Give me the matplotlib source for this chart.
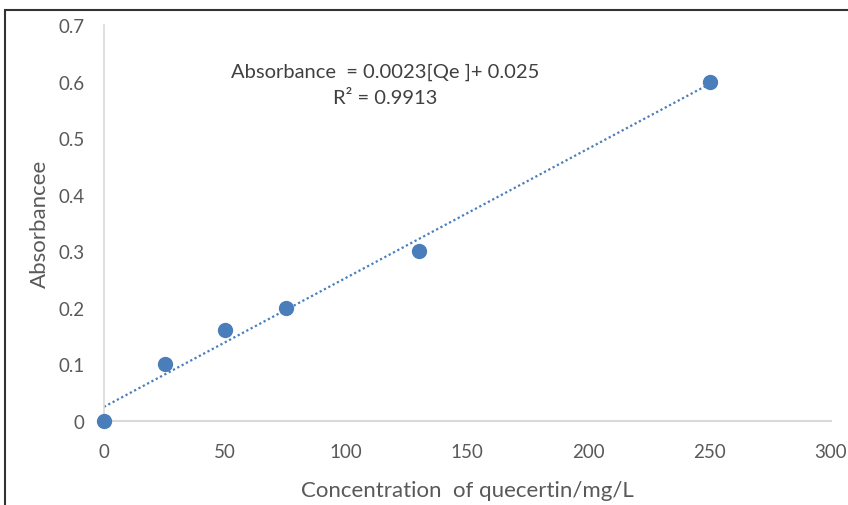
import numpy as np
import matplotlib
matplotlib.use('Agg')
import matplotlib.pyplot as plt
from matplotlib.patches import Rectangle

# du lieu doc tu hinh
conc = [0, 25, 50, 75, 130, 250]
absorb = [0, 0.1, 0.16, 0.2, 0.3, 0.6]
x_ticks = [0, 50, 100, 150, 200, 250, 300]
y_ticks = [0, 0.1, 0.2, 0.3, 0.4, 0.5, 0.6, 0.7]

plt.rcParams['font.family'] = ['Lato', 'DejaVu Sans']
blue = '#4a7ebb'
grey_txt = '#595959'

fig = plt.figure(figsize=(8.48, 5.06), dpi=100)
ax = fig.add_axes([0.1226, 0.166, 0.857, 0.7826])

# duong xu huong tuyen tinh
slope, icpt = np.polyfit(conc, absorb, 1)
xs = np.array([min(conc), max(conc)])
ax.plot(xs, slope * xs + icpt, linestyle=(0, (1, 1.2)), color=blue, lw=1.6)
ax.plot(conc, absorb, 'o', color=blue, markersize=10, clip_on=False, zorder=5)

ax.set_xlim(0, 300)
ax.set_ylim(0, 0.7)
ax.set_xticks(x_ticks)
ax.set_yticks(y_ticks)
ax.set_xticklabels([str(v) for v in x_ticks])
ax.set_yticklabels(['0' if v == 0 else f'{v:.1f}' for v in y_ticks])
ax.tick_params(length=0, labelsize=13.5, colors=grey_txt)
ax.tick_params(axis='x', pad=16)
ax.tick_params(axis='y', pad=14)

for s in ['top', 'right']:
    ax.spines[s].set_visible(False)
ax.spines['left'].set_color('#d9d9d9')
ax.spines['bottom'].set_color('#d9d9d9')
ax.spines['left'].set_linewidth(1.2)
ax.spines['bottom'].set_linewidth(1.5)

ax.set_xlabel('Concentration  of quecertin/mg/L', fontsize=16, color=grey_txt, labelpad=14)
ax.set_ylabel('Absorbancee', fontsize=16, color=grey_txt, labelpad=6)

ax.text(385 / 848, 1 - 72 / 506, 'Absorbance  = 0.0023[Qe ]+ 0.025',
        transform=fig.transFigure, ha='center', va='center', fontsize=14.5, color='#404040')
ax.text(385 / 848, 1 - 99 / 506, 'R\u00b2 = 0.9913',
        transform=fig.transFigure, ha='center', va='center', fontsize=14.5, color='#404040')

# khung vien
fig.patches.append(Rectangle((5 / 848, -0.1), 1.2, (506 - 11) / 506 + 0.1,
                             transform=fig.transFigure, fill=False,
                             edgecolor='#333333', lw=1.5))

fig.savefig('out.png', dpi=100)
